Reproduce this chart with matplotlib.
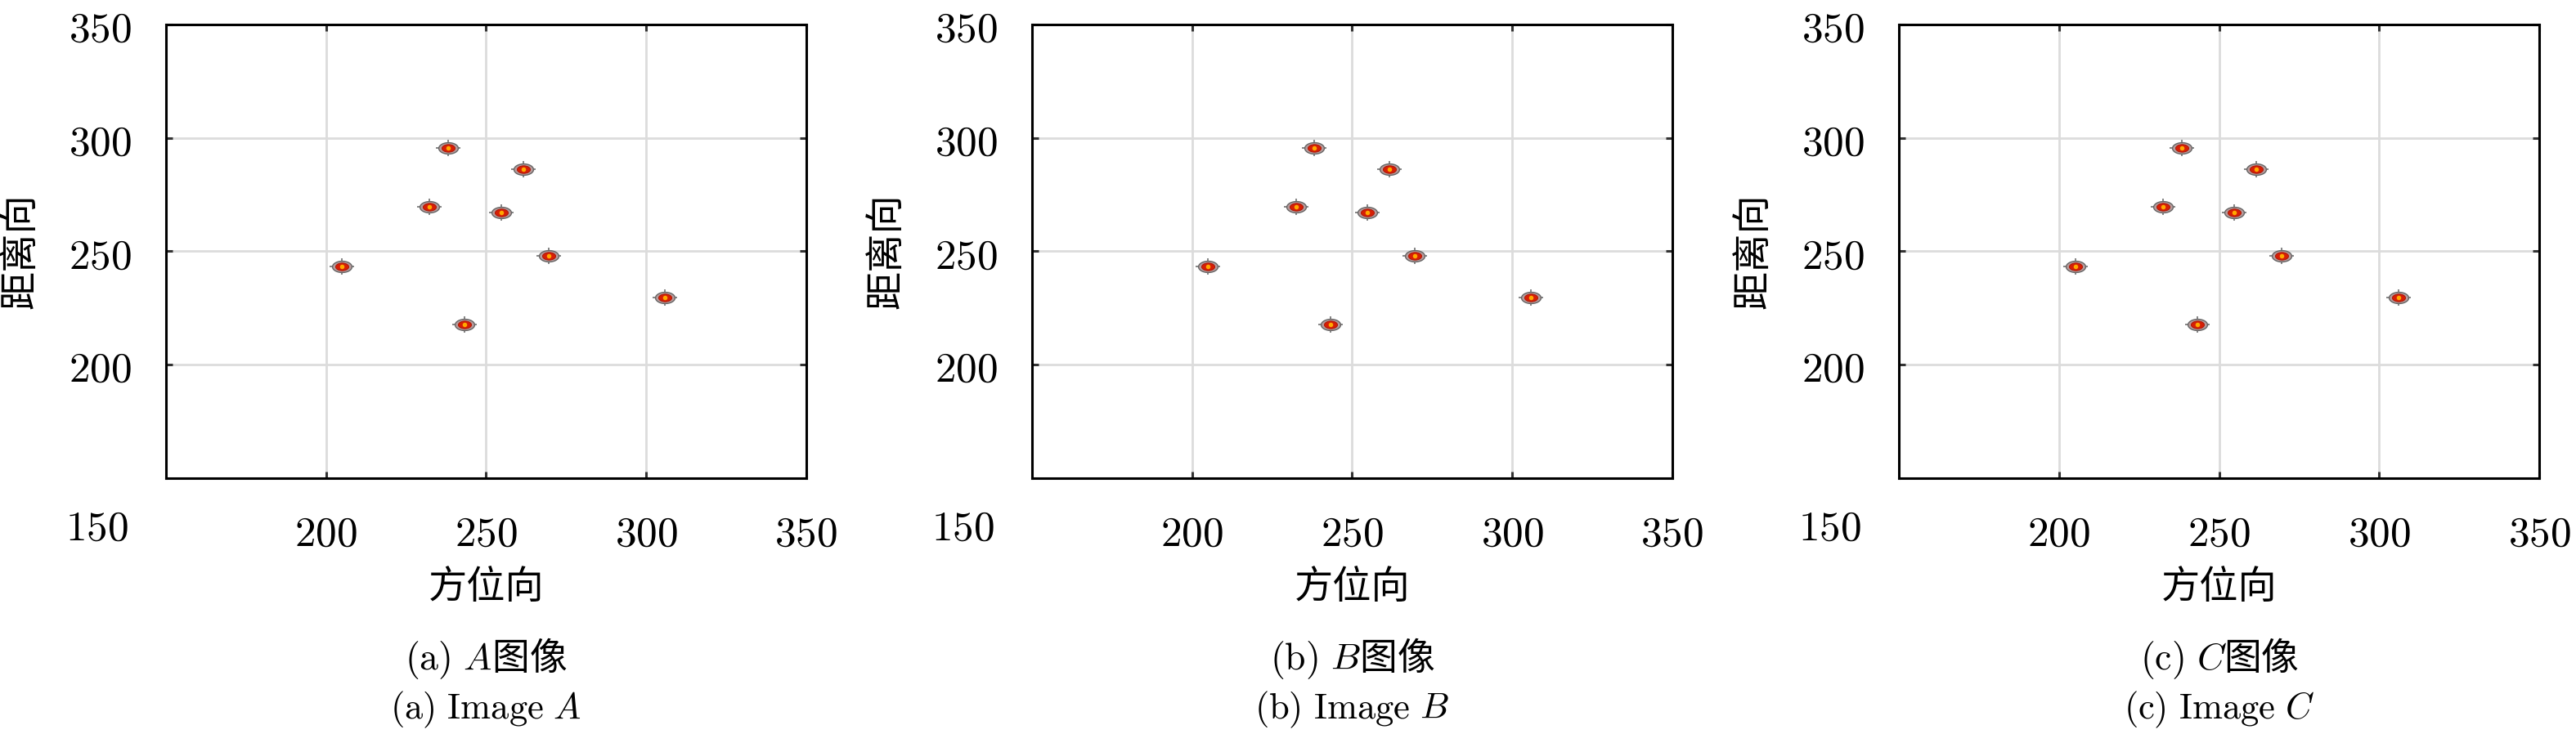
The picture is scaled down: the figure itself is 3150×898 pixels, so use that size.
import numpy as np
import matplotlib.pyplot as plt
from matplotlib.path import Path

plt.rcParams["mathtext.fontset"] = "cm"
plt.rcParams["font.family"] = ["Noto Sans CJK SC", "DejaVu Sans"]

# point target positions (azimuth, range), same in all three images
azimuth = [238.2, 261.6, 232.4, 254.7, 205.0, 269.6, 305.9, 243.2]
range_ = [295.4, 286.3, 269.6, 267.0, 243.2, 247.9, 229.5, 217.9]

ticks = [200, 250, 300, 350]
letters = ["a", "b", "c"]
images = ["A", "B", "C"]
xlabel = "方位向"
ylabel = "距离向"

# elliptic marker, wider than tall
t = np.linspace(0, 2 * np.pi, 40)
ellipse = Path(np.column_stack([np.cos(t), 0.58 * np.sin(t)]), closed=True)

fig = plt.figure(figsize=(15.75, 4.49), dpi=200)
lefts = [0.0644, 0.4006, 0.7372]

for i in range(3):
    ax = fig.add_axes([lefts[i], 0.3486, 0.2486, 0.618])
    ax.set_xlim(150, 350)
    ax.set_ylim(150, 350)

    # point targets
    ax.plot(azimuth, range_, ls="none", marker="_", ms=10.5, mew=0.6, color="#707070", zorder=3)
    ax.plot(azimuth, range_, ls="none", marker="|", ms=7.0, mew=0.6, color="#707070", zorder=3)
    ax.plot(azimuth, range_, ls="none", marker=ellipse, ms=8.6, mfc="#b89c9c", mec="#666666", mew=0.5, zorder=4)
    ax.plot(azimuth, range_, ls="none", marker=ellipse, ms=5.8, mfc="#d61f06", mec="#a81000", mew=0.3, zorder=5)
    ax.plot(azimuth, range_, ls="none", marker="o", ms=2.0, mfc="#ffa800", mec="none", zorder=6)

    ax.set_xticks(ticks)
    ax.set_yticks(ticks)
    ax.set_xticklabels(["$%d$" % v for v in ticks])
    ax.set_yticklabels(["$%d$" % v for v in ticks])
    ax.tick_params(direction="in", length=3, width=1.1, color="#333333",
                   top=True, right=True, labelsize=18.5, pad=15)
    ax.grid(True, color="#dcdcdc", linewidth=1.0)
    ax.set_axisbelow(True)
    for sp in ax.spines.values():
        sp.set_linewidth(1.1)
        sp.set_color("black")

    # shared corner label
    ax.annotate("$150$", xy=(0, 0), xycoords="axes fraction", xytext=(-16.5, -22),
                textcoords="offset points", ha="right", va="center", fontsize=18.5)

    ax.text(0.5, -0.2414, xlabel, transform=ax.transAxes, ha="center", va="center", fontsize=17)
    ax.text(-0.227, 0.5, ylabel, transform=ax.transAxes, rotation=90,
            ha="center", va="center", fontsize=17)
    ax.text(0.5, -0.398, r"$\mathrm{(%s)}\ %s$图像" % (letters[i], images[i]),
            transform=ax.transAxes, ha="center", va="center", fontsize=16.5)
    ax.text(0.5, -0.510, r"$\mathrm{(%s)\ Image}\ %s$" % (letters[i], images[i]),
            transform=ax.transAxes, ha="center", va="center", fontsize=16)

fig.savefig("out.png", dpi=200)
